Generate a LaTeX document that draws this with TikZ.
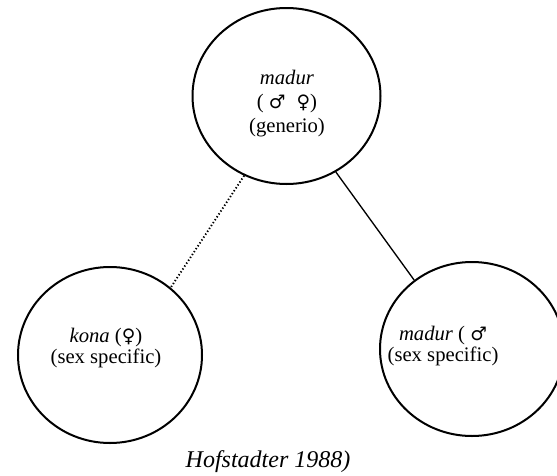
\documentclass[tikz,border=0pt]{standalone}
\usepackage{fontspec}
\setmainfont{Liberation Serif}
\newfontfamily\symfont[Scale=0.9]{DejaVu Sans}
\usetikzlibrary{shapes.geometric}

\begin{document}
\begin{tikzpicture}[x=0.75pt,y=-0.75pt,thick,
    word node/.style={ellipse,draw,line width=1.5pt,minimum width=141pt,minimum height=132pt,inner sep=0pt},
    text node/.style={align=center,inner sep=0pt,font=\fontsize{15.5}{16}\selectfont}]
    \useasboundingbox (0,0) rectangle (557,475);

    \node[word node] (gen) at (286.5,96) {};
    \node[word node,minimum width=138pt] (fem) at (110,355) {};
    \node[word node,minimum width=138pt,minimum height=130.5pt] (mal) at (472,349) {};

    \node[text node,font=\fontsize{15.5}{18}\selectfont] (gentext) at (287,104) {\textit{madur}\\( {\symfont ♂}\; {\symfont ♀})\\(generio)};
    \node[text node] (femtext) at (106,348) {\textit{kona} ({\symfont ♀})\\(sex specific)};
    \node[text node] (maltext) at (443,346) {\textit{madur} ( {\symfont ♂}\\(sex specific)};

    \path[line width=1pt]
        (gen.303) edge (mal.130)
        (gen.242) edge[line width=1.4pt,dash pattern=on 1pt off 1.6pt] (fem.48)
        ;

    \node[anchor=base,font=\fontsize{18}{20}\selectfont\itshape] (src) at (268,467) {Hofstadter 1988)};
\end{tikzpicture}
\end{document}
